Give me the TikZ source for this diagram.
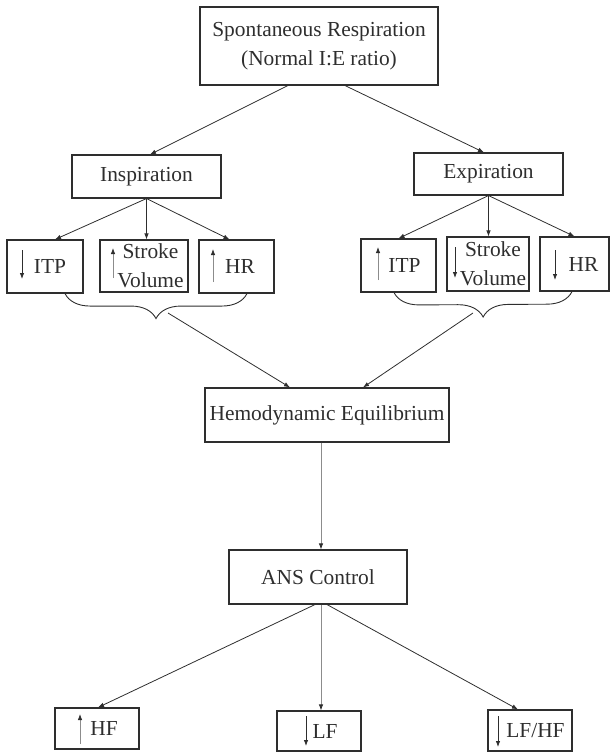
\documentclass[tikz,border=0pt]{standalone}
\usepackage{fontspec}
\setmainfont{Liberation Serif}
\usetikzlibrary{arrows.meta,calc,decorations.pathreplacing}
\definecolor{ink}{HTML}{2E2E2E}
\definecolor{pale}{HTML}{8C8C8C}
\begin{document}
\begin{tikzpicture}[x=1pt, y=-1pt, line width=0.8pt, draw=ink, text=ink, >={Latex[length=6pt,width=4.5pt]},box node/.style={rectangle,draw=ink,line width=1.1pt,inner sep=0pt,align=center,font=\fontsize{21.4}{29}\selectfont},sign/.style={line width=0.8pt,-{Latex[length=6pt,width=4.5pt]}},sign up/.style={sign,draw=pale,-{Latex[length=6pt,width=4.5pt,color=ink]}},pale line/.style={draw=pale,-{Latex[length=6pt,width=4.5pt,color=ink]}},brace/.style={decorate,decoration={brace,mirror,amplitude=25pt},line width=0.9pt}]%fill=white,
\useasboundingbox (0,0) rectangle (611,752);
\begin{scope}[every node/.style={box node}]
\node[minimum width=238pt, minimum height=78pt] (top) at (319,46) {Spontaneous Respiration\\(Normal I:E ratio)};
\node[minimum width=149pt, minimum height=43pt] (insp) at (146.5,176.5) {Inspiration};
\node[minimum width=149pt, minimum height=42pt] (exp) at (488.5,174) {Expiration};
\node[minimum width=76pt, minimum height=53pt] (itpI) at (45,266.5) {\hspace*{10pt}ITP};
\node[minimum width=88pt, minimum height=52pt] (svI) at (144,266) {\hspace*{13pt}Stroke\\\hspace*{13pt}Volume};
\node[minimum width=75pt, minimum height=53pt] (hrI) at (236.5,266.5) {\hspace*{7pt}HR};
\node[minimum width=75pt, minimum height=53pt] (itpII) at (398.5,265.5) {\hspace*{12pt}ITP};
\node[minimum width=82pt, minimum height=54pt] (svII) at (488,264) {\hspace*{10pt}Stroke\\\hspace*{10pt}Volume};
\node[minimum width=69pt, minimum height=54pt] (hrII) at (574.5,264) {\hspace*{18pt}HR};
\node[minimum width=244pt, minimum height=54pt] (hemo) at (327,415) {Hemodynamic Equilibrium};
\node[minimum width=178pt, minimum height=54pt] (ans) at (318,577) {ANS Control};
\node[minimum width=84pt, minimum height=41pt] (hf) at (97,728.5) {\hspace*{14pt}HF};
\node[minimum width=84pt, minimum height=40pt] (lf) at (319,731) {\hspace*{12pt}LF};
\node[minimum width=84pt, minimum height=41pt] (lfhf) at (530,730.5) {\hspace*{11pt}LF/HF};
%\node[minimum width=pt, minimum height=pt] (v) at (,) {};
\end{scope}
% up and down signs inside the boxes
\draw[sign] ($(itpI)+(-23,-16.5)$) -- ($(itpI)+(-23,12.5)$);
\draw[sign up] ($(svI)+(-31,12)$) -- ($(svI)+(-31,-18)$);
\draw[sign up] ($(hrI)+(-23.5,15.5)$) -- ($(hrI)+(-23.5,-17.5)$);
\draw[sign up] ($(itpII)+(-20.5,14.5)$) -- ($(itpII)+(-20.5,-18.5)$);
\draw[sign] ($(svII)+(-33,-17)$) -- ($(svII)+(-33,14)$);
\draw[sign] ($(hrII)+(-19.5,-14)$) -- ($(hrII)+(-19.5,16)$);
\draw[sign up] ($(hf)+(-17,15.5)$) -- ($(hf)+(-17,-14.5)$);
\draw[sign] ($(lf)+(-13,-15)$) -- ($(lf)+(-13,15)$);
\draw[sign] ($(lfhf)+(-32,-14.5)$) -- ($(lfhf)+(-32,16.5)$);
\draw[brace] ([xshift=20pt]itpI.south) -- ([xshift=10.5pt]hrI.south);
\draw[brace] ([xshift=-4.5pt]itpII.south) -- ([xshift=-2.5pt]hrII.south);
\coordinate (bI) at (168,313);
\coordinate (bII) at (473,313);
\begin{scope}[->]
\draw ([xshift=-31pt]top.south) -- ([xshift=3.5pt]insp.north);
\draw ([xshift=26pt]top.south) -- ([xshift=-4.5pt]exp.north);
\draw (insp.south) -- ([xshift=10pt]itpI.north);
\draw (insp.south) -- (insp.south |- svI.north);
\draw (insp.south) -- ([xshift=-7pt]hrI.north);
\draw (exp.south) -- (itpII.north);
\draw (exp.south) -- (exp.south |- svII.north);
\draw (exp.south) -- (hrII.north);
\draw (bI) -- ([xshift=-37pt]hemo.north);
\draw (bII) -- ([xshift=36pt]hemo.north);
\draw[pale line] ([xshift=-6pt]hemo.south) -- ([xshift=3pt]ans.north);
\draw ([xshift=-3pt]ans.south) -- ([xshift=1pt]hf.north);
\draw[pale line] ([xshift=3pt]ans.south) -- ([xshift=2pt]lf.north);
\draw ([xshift=9pt]ans.south) -- ([xshift=-12pt]lfhf.north);
%\draw (v) -- (v);
\end{scope}
\end{tikzpicture}
\end{document}
